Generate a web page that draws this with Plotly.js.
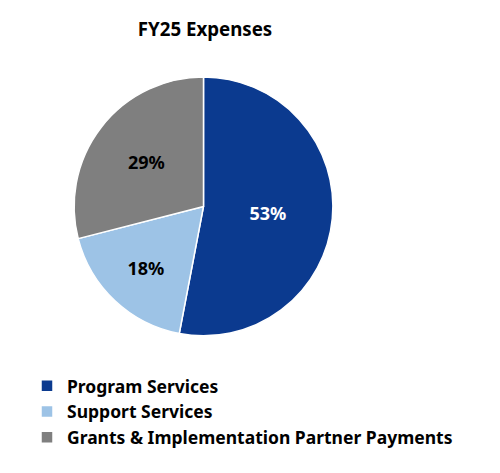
<!DOCTYPE html>
<html>
<head>
<meta charset="utf-8">
<script src="https://cdn.plot.ly/plotly-3.0.1.min.js"></script>
<style>
  html, body { margin: 0; padding: 0; background: #fff; }
  #chart { width: 500px; height: 473px; }
</style>
</head>
<body>
<div id="chart"></div>
<script>
const categories = ["Program Services", "Support Services", "Grants & Implementation Partner Payments"];
const shares = [53, 18, 29];
const sliceColors = ["#0b3a8f", "#9dc3e6", "#7f7f7f"];
const labelColors = ["#ffffff", "#000000", "#000000"];

const font = "Noto Sans, Lato, sans-serif";

Plotly.newPlot("chart", [{
	type: "pie",
	labels: categories,
	values: shares,
	sort: false,
	direction: "clockwise",
	rotation: 0,
	marker: { colors: sliceColors, line: { color: "#ffffff", width: 1.5 } },
	textinfo: "percent",
	texttemplate: "%{percent:.0%}",
	textposition: "inside",
	insidetextorientation: "horizontal",
	insidetextfont: { family: font, size: 18, color: labelColors, weight: "bold" },
	domain: { x: [0.148, 0.666], y: [0.29, 0.837] },
	hoverinfo: "label+percent"
}], {
	width: 500,
	height: 473,
	margin: { l: 0, r: 0, t: 0, b: 0 },
	paper_bgcolor: "#ffffff",
	title: {
		text: "FY25 Expenses",
		x: 0.41, xanchor: "center",
		y: 0.937, yanchor: "middle",
		font: { family: font, size: 18.7, color: "#000000", weight: "bold" }
	},
	showlegend: true,
	legend: {
		x: 0.054, xanchor: "left",
		y: 0.222, yanchor: "top",
		font: { family: font, size: 17.5, color: "#000000", weight: "bold" },
		traceorder: "normal",
		itemwidth: 30
	}
}, { displayModeBar: false, staticPlot: true });
</script>
</body>
</html>
